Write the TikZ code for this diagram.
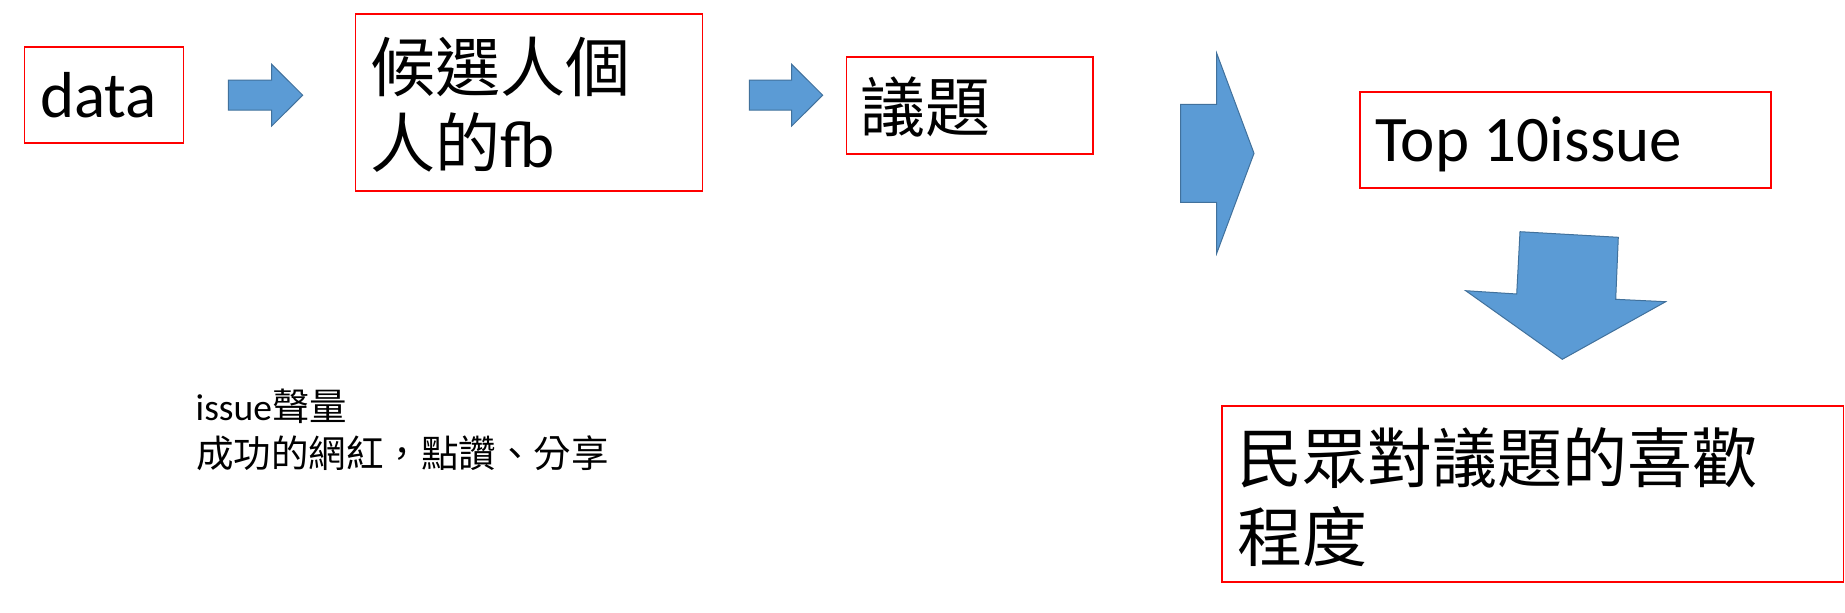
\documentclass[tikz,border=0pt]{standalone}
\usepackage{fontspec}
\setmainfont{Carlito}
\newfontfamily\cjk{Noto Sans CJK TC}
\definecolor{arrowfill}{HTML}{5B9BD5}
\definecolor{arrowline}{HTML}{41719C}
\begin{document}
\begin{tikzpicture}[x=1pt,y=-1pt,
  redbox/.style={draw=red, line width=1.6pt, inner sep=0pt, outer sep=0pt, anchor=north west},
  blockarrow/.style={fill=arrowfill, draw=arrowline, line width=1pt, line join=miter},
  bigtxt/.style={anchor=base west, inner sep=0pt, outer sep=0pt, font=\fontsize{65}{78}\selectfont},
  smalltxt/.style={anchor=base west, inner sep=0pt, outer sep=0pt, font=\fontsize{37.5}{47}\selectfont}]
\fill[white] (0,0) rectangle (1845,613);
\useasboundingbox (0,0) rectangle (1845,613);
% boxes
\node[redbox, minimum width=159pt, minimum height=96pt] (databox) at (24.5,47) {};
\node[redbox, minimum width=347pt, minimum height=177pt] (candbox) at (355.5,14) {};
\node[redbox, minimum width=246.5pt, minimum height=97pt] (issuebox) at (846.5,57) {};
\node[redbox, minimum width=411pt, minimum height=96pt] (topbox) at (1360,92) {};
\node[redbox, minimum width=621.5pt, minimum height=176pt] (likebox) at (1222,406) {};
% texts
\node[bigtxt] (datatxt) at (40.3,117.3) {data};
\node[bigtxt] (cand1) at (370,91) {{\cjk 候選人個}};
\node[bigtxt] (cand2) at (370,167) {{\cjk 人的}fb};
\node[bigtxt] (issuetxt) at (860,131) {{\cjk 議題}};
\node[bigtxt] (toptxt) at (1375,161) {Top 10issue};
\node[bigtxt] (like1) at (1237,482) {{\cjk 民眾對議題的喜歡}};
\node[bigtxt] (like2) at (1237,561) {{\cjk 程度}};
\node[smalltxt] (note1) at (195.7,420) {issue{\cjk 聲量}};
\node[smalltxt] (note2) at (196,467.6) {{\cjk 成功的網紅，點讚、分享}};
% block arrows
\draw[blockarrow] (228.3,80) -- (271.7,80) -- (271.7,64.3) -- (302.7,95.2) -- (271.7,126) -- (271.7,110) -- (228.3,110) -- cycle;
\draw[blockarrow] (749.3,80) -- (791.7,80) -- (791.7,64.3) -- (822.7,95.2) -- (791.7,126) -- (791.7,110) -- (749.3,110) -- cycle;
\draw[blockarrow] (1180.7,104.3) -- (1216.7,104.3) -- (1216.7,53.3) -- (1254,153.3) -- (1216.7,253.3) -- (1216.7,202.3) -- (1180.7,202.3) -- cycle;
\draw[blockarrow] (1520,231.7) -- (1618.3,237.3) -- (1615.7,299.3) -- (1665.7,301.7) -- (1562.3,359.3) -- (1465.7,290.7) -- (1516.7,294) -- cycle;
\end{tikzpicture}
\end{document}
